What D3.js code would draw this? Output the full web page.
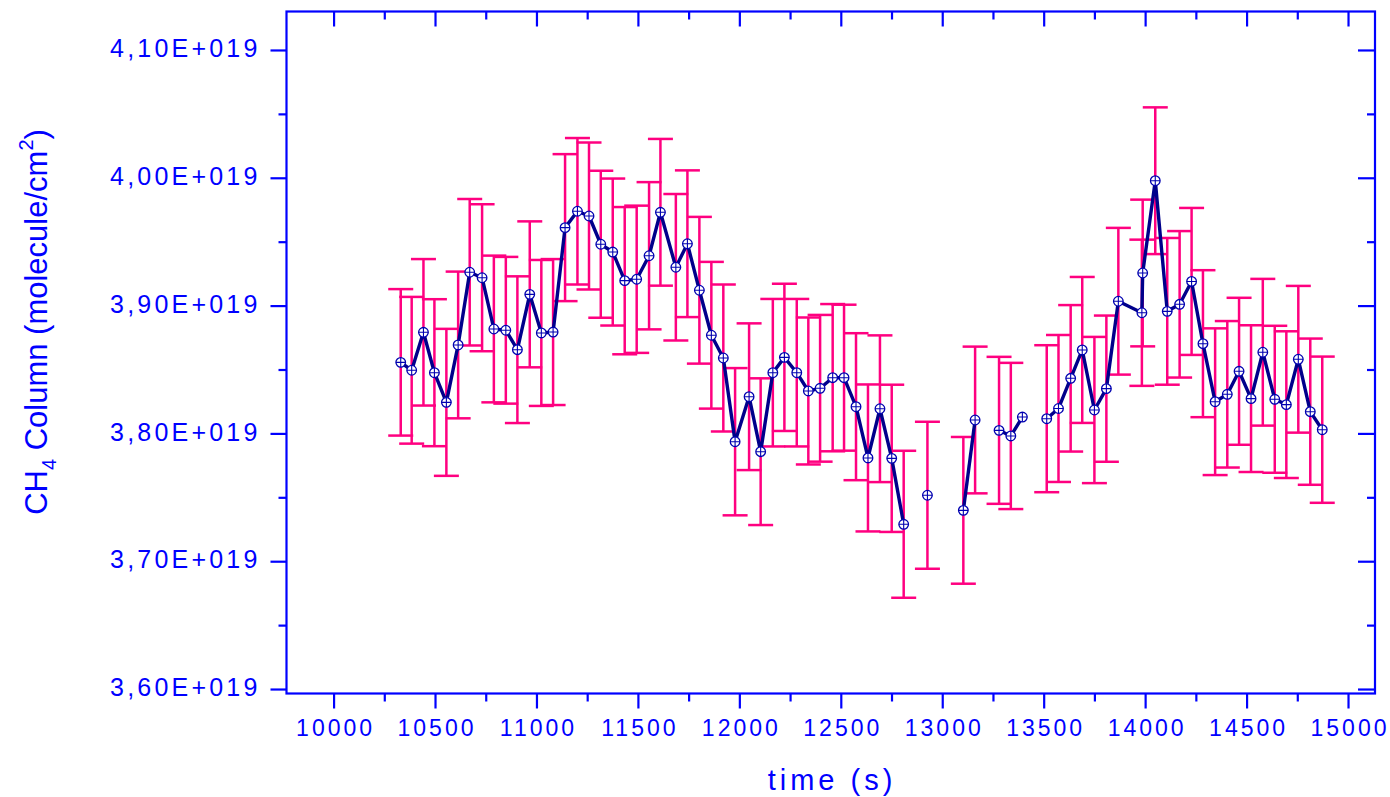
<!DOCTYPE html>
<html>
<head>
<meta charset="utf-8">
<script src="https://cdn.jsdelivr.net/npm/d3@7"></script>
<style>
  body { margin: 0; background: #fff; }
  svg { display: block; font-family: "Liberation Sans", Arial, sans-serif; }
</style>
</head>
<body>
<div id="chart"></div>
<script>
// time (s) of each measurement
const times = [
  10331, 10385, 10443, 10497, 10556, 10614, 10671, 10732, 10790, 10849,
  10906, 10967, 11024, 11082, 11141, 11202, 11259, 11317, 11376, 11435,
  11494, 11555, 11611, 11687, 11744, 11803, 11862, 11921, 11979, 12048,
  12105, 12165, 12222, 12283, 12340, 12398, 12460, 12516, 12575, 12634,
  12693, 12751, 12810, 12927, 13104, 13162, 13280, 13338, 13395, 13515,
  13573, 13633, 13690, 13750, 13809, 13868, 13984, 13988, 14050, 14109,
  14170, 14229, 14285, 14345, 14405, 14463, 14522, 14580, 14639, 14696,
  14755, 14814, 14873
];
// CH4 column, units of 1E+19 molecule/cm2
const values = [
  3.8556, 3.8494, 3.8791, 3.8475, 3.8243, 3.8692, 3.9261, 3.9218, 3.8817, 3.8807,
  3.8655, 3.9088, 3.8786, 3.8793, 3.9610, 3.9738, 3.9701, 3.9480, 3.9419, 3.9195,
  3.9206, 3.9390, 3.9730, 3.9300, 3.9484, 3.9120, 3.8768, 3.8590, 3.7935, 3.8287,
  3.7857, 3.8475, 3.8595, 3.8475, 3.8332, 3.8353, 3.8436, 3.8436, 3.8209, 3.7808,
  3.8193, 3.7805, 3.7289, 3.7516, 3.7398, 3.8105, 3.8024, 3.7980, 3.8128, 3.8115,
  3.8195, 3.8431, 3.8653, 3.8183, 3.8350, 3.9034, 3.8944, 3.9255, 3.9977, 3.8955,
  3.9010, 3.9189, 3.8702, 3.8248, 3.8306, 3.8486, 3.8272, 3.8635, 3.8267, 3.8225,
  3.8580, 3.8170, 3.8029
];
// half-width of the error bar (same units), null = no bar
const errors = [
  0.0573, 0.0574, 0.0573, 0.0575, 0.0575, 0.0574, 0.0573, 0.0575, 0.0574, 0.0574,
  0.0574, 0.0571, 0.0571, 0.0571, 0.0575, 0.0573, 0.0575, 0.0575, 0.0575, 0.0576,
  0.0576, 0.0576, 0.0574, 0.0573, 0.0574, 0.0574, 0.0574, 0.0575, 0.0576, 0.0574,
  0.0574, 0.0577, 0.0576, 0.0577, 0.0575, 0.0574, 0.0576, 0.0571, 0.0575, 0.0575,
  0.0574, 0.0576, 0.0575, 0.0575, 0.0574, 0.0574, 0.0575, 0.0572, null,   0.0575,
  0.0575, 0.0573, 0.0571, 0.0572, 0.0572, 0.0574, 0.0572, 0.0574, 0.0574, 0.0574,
  0.0573, 0.0575, 0.0575, 0.0574, 0.0573, 0.0575, 0.0574, 0.0574, 0.0575, 0.0574,
  0.0574, 0.0572, 0.0572
];
// the connecting line is broken before these times (missing rows)
const breakTimes = [12927, 13104, 13280, 13515];

const xTicks = [10000, 10500, 11000, 11500, 12000, 12500, 13000, 13500, 14000, 14500, 15000];
const yTicks = [3.6, 3.7, 3.8, 3.9, 4.0, 4.1];
const yTickLabels = ["3,60E+019", "3,70E+019", "3,80E+019", "3,90E+019", "4,00E+019", "4,10E+019"];

const width = 1390, height = 797;
const frame = {left: 286.5, right: 1375, top: 11.5, bottom: 693.5};
const blue = "#0000ff", navy = "#00008b", pink = "#ff0080";

const svg = d3.select("#chart").append("svg")
    .attr("width", width)
    .attr("height", height);

const x = d3.scaleLinear().domain([9768, 15133]).range([frame.left, frame.right]);
const y = d3.scaleLinear().domain([3.5965, 4.1301]).range([frame.bottom, frame.top]);

const xMinor = xTicks.slice(0, -1).map(d => d + 250);
const yMinor = yTicks.slice(0, -1).map(d => d + 0.05);

const data = times.map((t, i) => ({t: t, v: values[i], e: errors[i]}));

// axes
function styleAxis(g) {
  g.select(".domain").remove();
  g.selectAll("line").attr("stroke", blue).attr("stroke-width", 2.2);
}

// left
svg.append("g")
    .attr("transform", "translate(" + frame.left + ",0)")
    .call(d3.axisLeft(y).tickValues(yTicks).tickSize(16).tickPadding(10)
      .tickFormat((d, i) => yTickLabels[i]))
    .call(styleAxis)
    .call(g => g.selectAll("text")
      .attr("fill", blue)
      .attr("dy", "0.27em")
      .style("font-size", "25px")
      .style("letter-spacing", "3.2px"));
svg.append("g")
    .attr("transform", "translate(" + frame.left + ",0)")
    .call(d3.axisLeft(y).tickValues(yMinor).tickSize(8).tickFormat(""))
    .call(styleAxis);

// right (inside ticks)
svg.append("g")
    .attr("transform", "translate(" + frame.right + ",0)")
    .call(d3.axisLeft(y).tickValues(yTicks).tickSize(17).tickFormat(""))
    .call(styleAxis);
svg.append("g")
    .attr("transform", "translate(" + frame.right + ",0)")
    .call(d3.axisLeft(y).tickValues(yMinor).tickSize(8).tickFormat(""))
    .call(styleAxis);

// bottom
svg.append("g")
    .attr("transform", "translate(0," + frame.bottom + ")")
    .call(d3.axisBottom(x).tickValues(xTicks).tickSize(15).tickPadding(11.5).tickFormat(d3.format("d")))
    .call(styleAxis)
    .call(g => g.selectAll("text")
      .attr("fill", blue)
      .attr("dx", "1.5px")
      .style("font-size", "23px")
      .style("letter-spacing", "3px"));
svg.append("g")
    .attr("transform", "translate(0," + frame.bottom + ")")
    .call(d3.axisBottom(x).tickValues(xMinor).tickSize(8).tickFormat(""))
    .call(styleAxis);

// top (inside ticks)
svg.append("g")
    .attr("transform", "translate(0," + frame.top + ")")
    .call(d3.axisBottom(x).tickValues(xTicks).tickSize(15).tickFormat(""))
    .call(styleAxis);
svg.append("g")
    .attr("transform", "translate(0," + frame.top + ")")
    .call(d3.axisBottom(x).tickValues(xMinor).tickSize(8).tickFormat(""))
    .call(styleAxis);

// frame
svg.append("rect")
    .attr("x", frame.left)
    .attr("y", frame.top)
    .attr("width", frame.right - frame.left)
    .attr("height", frame.bottom - frame.top)
    .attr("fill", "none")
    .attr("stroke", blue)
    .attr("stroke-width", 2.2);

// axis titles
svg.append("text")
    .attr("x", 832)
    .attr("y", 790)
    .attr("text-anchor", "middle")
    .attr("fill", blue)
    .style("font-size", "29px")
    .style("letter-spacing", "4px")
    .text("time (s)");

const yTitle = svg.append("text")
    .attr("transform", "translate(47,322) rotate(-90)")
    .attr("text-anchor", "middle")
    .attr("fill", blue)
    .style("font-size", "31px");
yTitle.append("tspan").text("CH");
yTitle.append("tspan").attr("dy", 9).style("font-size", "20px").text("4");
yTitle.append("tspan").attr("dy", -9).text(" Column (molecule/cm");
yTitle.append("tspan").attr("dy", -14).style("font-size", "20px").text("2");
yTitle.append("tspan").attr("dy", 14).text(")");

// error bars
const bars = svg.append("g")
    .attr("stroke", pink)
    .attr("stroke-width", 2.5)
    .selectAll("g")
    .data(data.filter(d => d.e != null))
    .join("g");
bars.append("line")
    .attr("x1", d => x(d.t)).attr("x2", d => x(d.t))
    .attr("y1", d => y(d.v + d.e)).attr("y2", d => y(d.v - d.e));
bars.append("line")
    .attr("x1", d => x(d.t) - 12.5).attr("x2", d => x(d.t) + 12.5)
    .attr("y1", d => y(d.v + d.e)).attr("y2", d => y(d.v + d.e));
bars.append("line")
    .attr("x1", d => x(d.t) - 12.5).attr("x2", d => x(d.t) + 12.5)
    .attr("y1", d => y(d.v - d.e)).attr("y2", d => y(d.v - d.e));

// connecting line, split where rows are missing
const segments = d3.groups(data, d => breakTimes.filter(b => d.t >= b).length).map(g => g[1]);
const line = d3.line().x(d => x(d.t)).y(d => y(d.v));
svg.append("g")
    .selectAll("path")
    .data(segments)
    .join("path")
    .attr("d", line)
    .attr("fill", "none")
    .attr("stroke", navy)
    .attr("stroke-width", 3.4)
    .attr("stroke-linejoin", "round");

// markers: circle with a cross
const r = 4.8;
const marks = svg.append("g")
    .selectAll("g")
    .data(data)
    .join("g")
    .attr("transform", d => "translate(" + x(d.t) + "," + y(d.v) + ")");
marks.append("circle")
    .attr("r", r)
    .attr("fill", "#fff")
    .attr("stroke", "#0000b0")
    .attr("stroke-width", 1.3);
marks.append("path")
    .attr("d", "M" + (-r) + ",0H" + r + "M0," + (-r) + "V" + r)
    .attr("stroke", "#0000b0")
    .attr("stroke-width", 1.1);
</script>
</body>
</html>
